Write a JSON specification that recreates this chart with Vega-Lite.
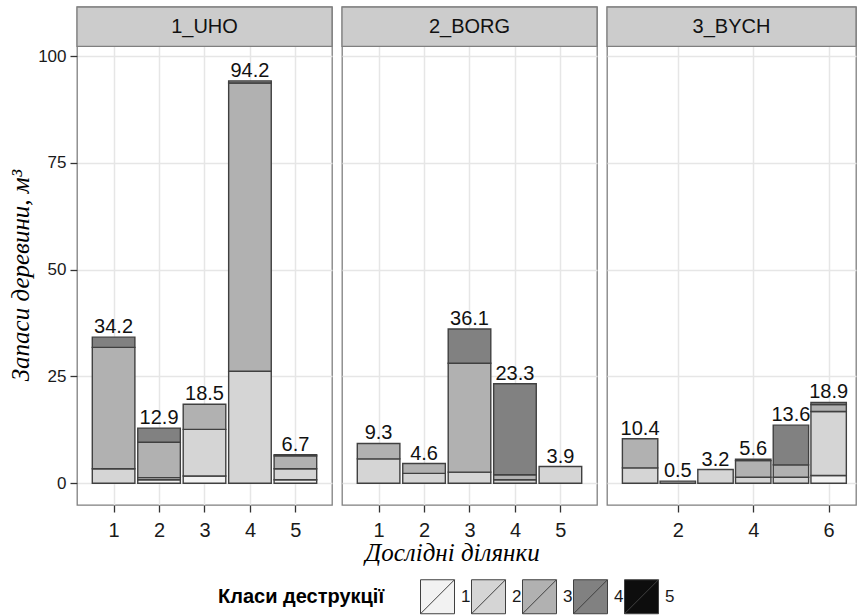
{
  "$schema": "https://vega.github.io/schema/vega-lite/v6.json",
  "padding": {"left": 7, "top": 5, "right": 0, "bottom": 0},
  "spacing": 6,
  "datasets": {
    "bars": [
      {"panel": "1_UHO", "plot": 1, "class": 2, "value": 3.4},
      {"panel": "1_UHO", "plot": 1, "class": 3, "value": 28.4},
      {"panel": "1_UHO", "plot": 1, "class": 4, "value": 2.4},
      {"panel": "1_UHO", "plot": 2, "class": 1, "value": 0.8},
      {"panel": "1_UHO", "plot": 2, "class": 2, "value": 0.5},
      {"panel": "1_UHO", "plot": 2, "class": 3, "value": 8.3},
      {"panel": "1_UHO", "plot": 2, "class": 4, "value": 3.3},
      {"panel": "1_UHO", "plot": 3, "class": 1, "value": 1.7},
      {"panel": "1_UHO", "plot": 3, "class": 2, "value": 10.9},
      {"panel": "1_UHO", "plot": 3, "class": 3, "value": 5.9},
      {"panel": "1_UHO", "plot": 4, "class": 2, "value": 26.2},
      {"panel": "1_UHO", "plot": 4, "class": 3, "value": 67.5},
      {"panel": "1_UHO", "plot": 4, "class": 4, "value": 0.5},
      {"panel": "1_UHO", "plot": 5, "class": 1, "value": 0.8},
      {"panel": "1_UHO", "plot": 5, "class": 2, "value": 2.6},
      {"panel": "1_UHO", "plot": 5, "class": 3, "value": 3.0},
      {"panel": "1_UHO", "plot": 5, "class": 4, "value": 0.3},
      {"panel": "2_BORG", "plot": 1, "class": 2, "value": 5.7},
      {"panel": "2_BORG", "plot": 1, "class": 3, "value": 3.6},
      {"panel": "2_BORG", "plot": 2, "class": 2, "value": 2.3},
      {"panel": "2_BORG", "plot": 2, "class": 3, "value": 2.3},
      {"panel": "2_BORG", "plot": 3, "class": 2, "value": 2.6},
      {"panel": "2_BORG", "plot": 3, "class": 3, "value": 25.5},
      {"panel": "2_BORG", "plot": 3, "class": 4, "value": 8.0},
      {"panel": "2_BORG", "plot": 4, "class": 2, "value": 0.8},
      {"panel": "2_BORG", "plot": 4, "class": 3, "value": 1.2},
      {"panel": "2_BORG", "plot": 4, "class": 4, "value": 21.3},
      {"panel": "2_BORG", "plot": 5, "class": 2, "value": 3.9},
      {"panel": "3_BYCH", "plot": 1, "class": 2, "value": 3.6},
      {"panel": "3_BYCH", "plot": 1, "class": 3, "value": 6.8},
      {"panel": "3_BYCH", "plot": 2, "class": 3, "value": 0.5},
      {"panel": "3_BYCH", "plot": 3, "class": 2, "value": 3.2},
      {"panel": "3_BYCH", "plot": 4, "class": 2, "value": 1.4},
      {"panel": "3_BYCH", "plot": 4, "class": 3, "value": 3.9},
      {"panel": "3_BYCH", "plot": 4, "class": 4, "value": 0.3},
      {"panel": "3_BYCH", "plot": 5, "class": 2, "value": 1.4},
      {"panel": "3_BYCH", "plot": 5, "class": 3, "value": 2.9},
      {"panel": "3_BYCH", "plot": 5, "class": 4, "value": 9.3},
      {"panel": "3_BYCH", "plot": 6, "class": 1, "value": 1.8},
      {"panel": "3_BYCH", "plot": 6, "class": 2, "value": 15.0},
      {"panel": "3_BYCH", "plot": 6, "class": 3, "value": 1.6},
      {"panel": "3_BYCH", "plot": 6, "class": 4, "value": 0.5}
    ],
    "strips": [
      {"panel": "1_UHO", "mid": 3.0},
      {"panel": "2_BORG", "mid": 3.0},
      {"panel": "3_BYCH", "mid": 3.424}
    ]
  },
  "config": {
    "font": "Liberation Sans",
    "view": {"stroke": "#7f7f7f", "strokeWidth": 1.3},
    "axis": {
      "gridColor": "#e6e6e6", "gridWidth": 1.5,
      "tickColor": "#333333", "tickSize": 7, "tickWidth": 1.3,
      "labelColor": "#1a1a1a", "labelFont": "Liberation Sans",
      "domain": false
    },
    "axisY": {"labelPadding": 4, "labelFontSize": 17},
    "axisX": {"labelPadding": 8, "labelFontSize": 20}
  },
  "resolve": {"scale": {"x": "independent", "y": "shared", "fill": "shared"}, "legend": {"fill": "shared"}},
  "hconcat": [
    {
      "width": 255, "height": 498,
      "layer": [
        {
          "data": {"name": "bars"},
          "transform": [{"filter": "datum.panel == '1_UHO'"}],
          "mark": {"type": "bar", "width": 42.6, "stroke": "#404040", "strokeWidth": 1.4},
          "encoding": {
            "x": {"field": "plot", "type": "quantitative", "scale": {"domain": [0.305, 5.695], "nice": false, "zero": false},
                  "axis": {"values": [1, 2, 3, 4, 5], "title": null, "grid": true}},
            "y": {"field": "value", "type": "quantitative", "stack": "zero", "scale": {"domain": [-5.1, 111.5], "nice": false, "zero": false},
                  "axis": {"values": [0, 25, 50, 75, 100], "grid": true, "title": "Запаси деревини, м³",
                           "titleFont": "Liberation Serif", "titleFontStyle": "italic", "titleFontWeight": "normal",
                           "titleFontSize": 25, "titleColor": "#000000", "titleY": 268, "titlePadding": 4}},
            "fill": {"field": "class", "type": "nominal",
                     "scale": {"domain": [1, 2, 3, 4, 5], "range": ["#F2F2F2", "#D5D5D5", "#B1B1B1", "#818181", "#0D0D0D"]},
                     "legend": {"orient": "none", "legendX": 141, "legendY": 572, "direction": "horizontal",
                                "title": "Класи деструкції", "titleOrient": "left", "titleFontSize": 20, "titleFontWeight": "bold",
                                "titleColor": "#000000", "titlePadding": 35, "titleBaseline": "middle",
                                "labelFontSize": 17, "labelColor": "#1a1a1a", "labelOffset": 6, "columnPadding": -3,
                                "symbolType": "M-1,-1H1V1H-1Z M-1,1L1,-1", "symbolSize": 1156,
                                "symbolStrokeColor": "#555555", "symbolStrokeWidth": 1}},
            "order": {"field": "class", "type": "quantitative"}
          }
        },
        {
          "data": {"name": "bars"},
          "transform": [{"filter": "datum.panel == '1_UHO'"}, {"aggregate": [{"op": "sum", "field": "value", "as": "value"}], "groupby": ["plot"]}],
          "mark": {"type": "text", "baseline": "alphabetic", "dy": -4, "fontSize": 20, "color": "#111111"},
          "encoding": {
            "x": {"field": "plot", "type": "quantitative", "scale": {"domain": [0.305, 5.695], "nice": false, "zero": false},
                  "axis": {"values": [1, 2, 3, 4, 5], "title": null, "grid": true}},
            "y": {"field": "value", "type": "quantitative", "scale": {"domain": [-5.1, 111.5], "nice": false, "zero": false},
                  "axis": {"values": [0, 25, 50, 75, 100], "grid": true, "title": "Запаси деревини, м³",
                           "titleFont": "Liberation Serif", "titleFontStyle": "italic", "titleFontWeight": "normal",
                           "titleFontSize": 25, "titleColor": "#000000", "titleY": 268, "titlePadding": 4}},
            "text": {"field": "value", "type": "quantitative", "format": ".1f"}
          }
        },
        {
          "data": {"name": "strips"},
          "transform": [{"filter": "datum.panel == '1_UHO'"}],
          "mark": {"type": "rect", "fill": "#cccccc", "stroke": "#7f7f7f", "strokeWidth": 1.3},
          "encoding": {
            "y": {"datum": 102.3, "type": "quantitative", "scale": {"domain": [-5.1, 111.5], "nice": false, "zero": false},
                  "axis": {"values": [0, 25, 50, 75, 100], "grid": true, "title": "Запаси деревини, м³",
                           "titleFont": "Liberation Serif", "titleFontStyle": "italic", "titleFontWeight": "normal",
                           "titleFontSize": 25, "titleColor": "#000000", "titleY": 268, "titlePadding": 4}},
            "y2": {"datum": 111.5}
          }
        },
        {
          "data": {"name": "strips"},
          "transform": [{"filter": "datum.panel == '1_UHO'"}],
          "mark": {"type": "text", "baseline": "middle", "fontSize": 20, "color": "#111111"},
          "encoding": {
            "x": {"field": "mid", "type": "quantitative", "scale": {"domain": [0.305, 5.695], "nice": false, "zero": false},
                  "axis": {"values": [1, 2, 3, 4, 5], "title": null, "grid": true}},
            "y": {"datum": 106.9, "type": "quantitative", "scale": {"domain": [-5.1, 111.5], "nice": false, "zero": false},
                  "axis": {"values": [0, 25, 50, 75, 100], "grid": true, "title": "Запаси деревини, м³",
                           "titleFont": "Liberation Serif", "titleFontStyle": "italic", "titleFontWeight": "normal",
                           "titleFontSize": 25, "titleColor": "#000000", "titleY": 268, "titlePadding": 4}},
            "text": {"field": "panel"}
          }
        }
      ]
    },
    {
      "width": 255, "height": 498,
      "layer": [
        {
          "data": {"name": "bars"},
          "transform": [{"filter": "datum.panel == '2_BORG'"}],
          "mark": {"type": "bar", "width": 42.6, "stroke": "#404040", "strokeWidth": 1.4},
          "encoding": {
            "x": {"field": "plot", "type": "quantitative", "scale": {"domain": [0.305, 5.695], "nice": false, "zero": false},
                  "axis": {"values": [1, 2, 3, 4, 5], "grid": true, "title": "Дослідні ділянки",
                           "titleFont": "Liberation Serif", "titleFontStyle": "italic", "titleFontWeight": "normal",
                           "titleFontSize": 25, "titleColor": "#000000", "titleX": 110, "titlePadding": 0}},
            "y": {"field": "value", "type": "quantitative", "stack": "zero", "scale": {"domain": [-5.1, 111.5], "nice": false, "zero": false},
                  "axis": {"values": [0, 25, 50, 75, 100], "grid": true, "labels": false, "ticks": false, "title": null}},
            "fill": {"field": "class", "type": "nominal",
                     "scale": {"domain": [1, 2, 3, 4, 5], "range": ["#F2F2F2", "#D5D5D5", "#B1B1B1", "#818181", "#0D0D0D"]}},
            "order": {"field": "class", "type": "quantitative"}
          }
        },
        {
          "data": {"name": "bars"},
          "transform": [{"filter": "datum.panel == '2_BORG'"}, {"aggregate": [{"op": "sum", "field": "value", "as": "value"}], "groupby": ["plot"]}],
          "mark": {"type": "text", "baseline": "alphabetic", "dy": -4, "fontSize": 20, "color": "#111111"},
          "encoding": {
            "x": {"field": "plot", "type": "quantitative", "scale": {"domain": [0.305, 5.695], "nice": false, "zero": false},
                  "axis": {"values": [1, 2, 3, 4, 5], "grid": true, "title": "Дослідні ділянки",
                           "titleFont": "Liberation Serif", "titleFontStyle": "italic", "titleFontWeight": "normal",
                           "titleFontSize": 25, "titleColor": "#000000", "titleX": 110, "titlePadding": 0}},
            "y": {"field": "value", "type": "quantitative", "scale": {"domain": [-5.1, 111.5], "nice": false, "zero": false},
                  "axis": {"values": [0, 25, 50, 75, 100], "grid": true, "labels": false, "ticks": false, "title": null}},
            "text": {"field": "value", "type": "quantitative", "format": ".1f"}
          }
        },
        {
          "data": {"name": "strips"},
          "transform": [{"filter": "datum.panel == '2_BORG'"}],
          "mark": {"type": "rect", "fill": "#cccccc", "stroke": "#7f7f7f", "strokeWidth": 1.3},
          "encoding": {
            "y": {"datum": 102.3, "type": "quantitative", "scale": {"domain": [-5.1, 111.5], "nice": false, "zero": false},
                  "axis": {"values": [0, 25, 50, 75, 100], "grid": true, "labels": false, "ticks": false, "title": null}},
            "y2": {"datum": 111.5}
          }
        },
        {
          "data": {"name": "strips"},
          "transform": [{"filter": "datum.panel == '2_BORG'"}],
          "mark": {"type": "text", "baseline": "middle", "fontSize": 20, "color": "#111111"},
          "encoding": {
            "x": {"field": "mid", "type": "quantitative", "scale": {"domain": [0.305, 5.695], "nice": false, "zero": false},
                  "axis": {"values": [1, 2, 3, 4, 5], "grid": true, "title": "Дослідні ділянки",
                           "titleFont": "Liberation Serif", "titleFontStyle": "italic", "titleFontWeight": "normal",
                           "titleFontSize": 25, "titleColor": "#000000", "titleX": 110, "titlePadding": 0}},
            "y": {"datum": 106.9, "type": "quantitative", "scale": {"domain": [-5.1, 111.5], "nice": false, "zero": false},
                  "axis": {"values": [0, 25, 50, 75, 100], "grid": true, "labels": false, "ticks": false, "title": null}},
            "text": {"field": "panel"}
          }
        }
      ]
    },
    {
      "width": 249, "height": 498,
      "layer": [
        {
          "data": {"name": "bars"},
          "transform": [{"filter": "datum.panel == '3_BYCH'"}],
          "mark": {"type": "bar", "width": 35.4, "stroke": "#404040", "strokeWidth": 1.4},
          "encoding": {
            "x": {"field": "plot", "type": "quantitative", "scale": {"domain": [0.255, 6.593], "nice": false, "zero": false},
                  "axis": {"values": [2, 4, 6], "title": null, "grid": true}},
            "y": {"field": "value", "type": "quantitative", "stack": "zero", "scale": {"domain": [-5.1, 111.5], "nice": false, "zero": false},
                  "axis": {"values": [0, 25, 50, 75, 100], "grid": true, "labels": false, "ticks": false, "title": null}},
            "fill": {"field": "class", "type": "nominal",
                     "scale": {"domain": [1, 2, 3, 4, 5], "range": ["#F2F2F2", "#D5D5D5", "#B1B1B1", "#818181", "#0D0D0D"]}},
            "order": {"field": "class", "type": "quantitative"}
          }
        },
        {
          "data": {"name": "bars"},
          "transform": [{"filter": "datum.panel == '3_BYCH'"}, {"aggregate": [{"op": "sum", "field": "value", "as": "value"}], "groupby": ["plot"]}],
          "mark": {"type": "text", "baseline": "alphabetic", "dy": -4, "fontSize": 20, "color": "#111111"},
          "encoding": {
            "x": {"field": "plot", "type": "quantitative", "scale": {"domain": [0.255, 6.593], "nice": false, "zero": false},
                  "axis": {"values": [2, 4, 6], "title": null, "grid": true}},
            "y": {"field": "value", "type": "quantitative", "scale": {"domain": [-5.1, 111.5], "nice": false, "zero": false},
                  "axis": {"values": [0, 25, 50, 75, 100], "grid": true, "labels": false, "ticks": false, "title": null}},
            "text": {"field": "value", "type": "quantitative", "format": ".1f"}
          }
        },
        {
          "data": {"name": "strips"},
          "transform": [{"filter": "datum.panel == '3_BYCH'"}],
          "mark": {"type": "rect", "fill": "#cccccc", "stroke": "#7f7f7f", "strokeWidth": 1.3},
          "encoding": {
            "y": {"datum": 102.3, "type": "quantitative", "scale": {"domain": [-5.1, 111.5], "nice": false, "zero": false},
                  "axis": {"values": [0, 25, 50, 75, 100], "grid": true, "labels": false, "ticks": false, "title": null}},
            "y2": {"datum": 111.5}
          }
        },
        {
          "data": {"name": "strips"},
          "transform": [{"filter": "datum.panel == '3_BYCH'"}],
          "mark": {"type": "text", "baseline": "middle", "fontSize": 20, "color": "#111111"},
          "encoding": {
            "x": {"field": "mid", "type": "quantitative", "scale": {"domain": [0.255, 6.593], "nice": false, "zero": false},
                  "axis": {"values": [2, 4, 6], "title": null, "grid": true}},
            "y": {"datum": 106.9, "type": "quantitative", "scale": {"domain": [-5.1, 111.5], "nice": false, "zero": false},
                  "axis": {"values": [0, 25, 50, 75, 100], "grid": true, "labels": false, "ticks": false, "title": null}},
            "text": {"field": "panel"}
          }
        }
      ]
    }
  ]
}
